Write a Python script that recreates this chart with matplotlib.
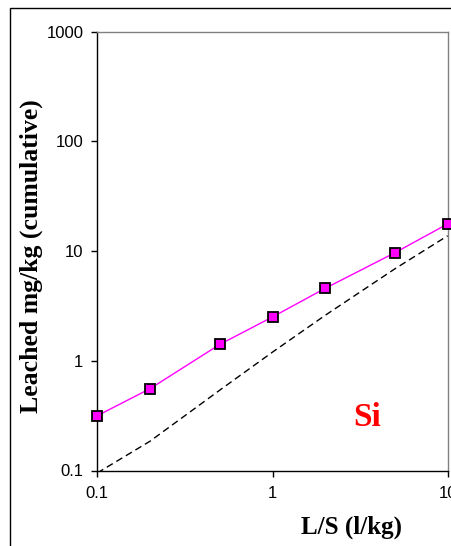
import matplotlib
matplotlib.use("Agg")
import matplotlib.pyplot as plt
import numpy as np
from matplotlib.patches import Rectangle
from matplotlib.ticker import FixedLocator, FixedFormatter, NullLocator

# Leached amount vs L/S ratio
ls_ratio = [0.1, 0.2, 0.5, 1, 2, 5, 10]
leached_si = [0.316, 0.557, 1.41, 2.51, 4.58, 9.67, 17.7]
reference = [0.095, 0.185, 0.54, 1.2, 2.6, 6.9, 13.8]

x_ticks = [0.1, 1, 10]
x_labels = ["0.1", "1", "10"]
y_ticks = [0.1, 1, 10, 100, 1000]
y_labels = ["0.1", "1", "10", "100", "1000"]

fig = plt.figure(figsize=(4.52, 5.46), dpi=100)
ax = fig.add_axes([97.3 / 452, 1 - 470.5 / 546, (447.7 - 97.3) / 452, (470.5 - 31.7) / 546])

# outer frame of the original figure (cropped on right/bottom)
fig.patches.append(Rectangle((9.5 / 452, -0.1), 1.2, 1.1 - 7.5 / 546,
                             transform=fig.transFigure, fill=False,
                             edgecolor="black", linewidth=1.0))

ax.plot(ls_ratio, reference, color="black", ls=(0, (5, 3)), lw=1.0)
ax.plot(ls_ratio, leached_si, color="#ff00ff", lw=1.0, marker="s", ms=7,
        mfc="#ff00ff", mec="black", mew=1.3, clip_on=False, zorder=5)

ax.set_xscale("log")
ax.set_yscale("log")
ax.set_xlim(0.1, 10)
ax.set_ylim(0.1, 1000)

ax.xaxis.set_major_locator(FixedLocator(x_ticks))
ax.xaxis.set_major_formatter(FixedFormatter(x_labels))
ax.yaxis.set_major_locator(FixedLocator(y_ticks))
ax.yaxis.set_major_formatter(FixedFormatter(y_labels))
ax.xaxis.set_minor_locator(NullLocator())
ax.yaxis.set_minor_locator(NullLocator())

for side in ("left", "bottom"):
    ax.spines[side].set_color("black")
    ax.spines[side].set_linewidth(1.0)
for side in ("top", "right"):
    ax.spines[side].set_color("#808080")
    ax.spines[side].set_linewidth(1.0)

ax.tick_params(axis="both", direction="out", length=4, width=1.0, color="black",
               labelsize=12, labelcolor="black")
ax.tick_params(axis="x", pad=7)
ax.tick_params(axis="y", pad=6)
for lab in ax.get_xticklabels() + ax.get_yticklabels():
    lab.set_fontfamily("Liberation Sans")

fig.text(31.5 / 452, 1 - 256.5 / 546, "Leached mg/kg (cumulative)",
         family="Liberation Serif", fontweight="bold", fontsize=18.5,
         rotation=90, ha="center", va="center")
fig.text(351.7 / 452, 1 - 533.3 / 546, "L/S (l/kg)", family="Liberation Serif",
         fontweight="bold", fontsize=18, ha="center", va="baseline")
ax.text(367 / 452, 1 - 418 / 546, "Si", transform=fig.transFigure,
        family="Liberation Serif", fontweight="bold", fontsize=24,
        color="red", ha="center", va="center")

fig.savefig("out.png", dpi=100)
